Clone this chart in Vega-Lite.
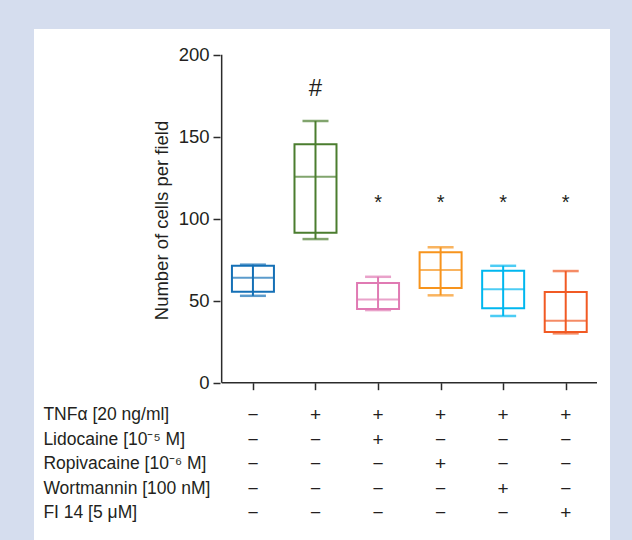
{
  "$schema": "https://vega.github.io/schema/vega-lite/v6.json",
  "width": 576,
  "height": 511,
  "autosize": {"type": "none"},
  "padding": {"left": 34, "top": 29, "right": 22, "bottom": 0},
  "background": "#d5ddee",
  "config": {
    "font": "Liberation Sans",
    "view": {"fill": "white", "stroke": null}
  },
  "datasets": {
    "boxes": [
      {"group": "Control", "pos": 1, "lo": 53, "q1": 55.5, "med": 64, "q3": 71.3, "hi": 72, "sig": ""},
      {"group": "TNFα", "pos": 2, "lo": 87.6, "q1": 91.5, "med": 125.6, "q3": 145.4, "hi": 159.6, "sig": "#"},
      {"group": "TNFα + Lidocaine", "pos": 3, "lo": 44.3, "q1": 44.9, "med": 50.8, "q3": 60.8, "hi": 64.6, "sig": "*"},
      {"group": "TNFα + Ropivacaine", "pos": 4, "lo": 53.3, "q1": 57.7, "med": 68.7, "q3": 79.5, "hi": 82.6, "sig": "*"},
      {"group": "TNFα + Wortmannin", "pos": 5, "lo": 40.7, "q1": 45.4, "med": 57, "q3": 68.3, "hi": 71.3, "sig": "*"},
      {"group": "TNFα + FI 14", "pos": 6, "lo": 30.1, "q1": 30.9, "med": 37.8, "q3": 55.3, "hi": 68.1, "sig": "*"}
    ],
    "factors": [
      {"factor": "TNFα [20 ng/ml]"},
      {"factor": "Lidocaine [10⁻⁵ M]"},
      {"factor": "Ropivacaine [10⁻⁶ M]"},
      {"factor": "Wortmannin [100 nM]"},
      {"factor": "FI 14 [5 μM]"}
    ],
    "table": [
      {"factor": "TNFα [20 ng/ml]", "pos": 1, "sym": "−"},
      {"factor": "TNFα [20 ng/ml]", "pos": 2, "sym": "+"},
      {"factor": "TNFα [20 ng/ml]", "pos": 3, "sym": "+"},
      {"factor": "TNFα [20 ng/ml]", "pos": 4, "sym": "+"},
      {"factor": "TNFα [20 ng/ml]", "pos": 5, "sym": "+"},
      {"factor": "TNFα [20 ng/ml]", "pos": 6, "sym": "+"},
      {"factor": "Lidocaine [10⁻⁵ M]", "pos": 1, "sym": "−"},
      {"factor": "Lidocaine [10⁻⁵ M]", "pos": 2, "sym": "−"},
      {"factor": "Lidocaine [10⁻⁵ M]", "pos": 3, "sym": "+"},
      {"factor": "Lidocaine [10⁻⁵ M]", "pos": 4, "sym": "−"},
      {"factor": "Lidocaine [10⁻⁵ M]", "pos": 5, "sym": "−"},
      {"factor": "Lidocaine [10⁻⁵ M]", "pos": 6, "sym": "−"},
      {"factor": "Ropivacaine [10⁻⁶ M]", "pos": 1, "sym": "−"},
      {"factor": "Ropivacaine [10⁻⁶ M]", "pos": 2, "sym": "−"},
      {"factor": "Ropivacaine [10⁻⁶ M]", "pos": 3, "sym": "−"},
      {"factor": "Ropivacaine [10⁻⁶ M]", "pos": 4, "sym": "+"},
      {"factor": "Ropivacaine [10⁻⁶ M]", "pos": 5, "sym": "−"},
      {"factor": "Ropivacaine [10⁻⁶ M]", "pos": 6, "sym": "−"},
      {"factor": "Wortmannin [100 nM]", "pos": 1, "sym": "−"},
      {"factor": "Wortmannin [100 nM]", "pos": 2, "sym": "−"},
      {"factor": "Wortmannin [100 nM]", "pos": 3, "sym": "−"},
      {"factor": "Wortmannin [100 nM]", "pos": 4, "sym": "−"},
      {"factor": "Wortmannin [100 nM]", "pos": 5, "sym": "+"},
      {"factor": "Wortmannin [100 nM]", "pos": 6, "sym": "−"},
      {"factor": "FI 14 [5 μM]", "pos": 1, "sym": "−"},
      {"factor": "FI 14 [5 μM]", "pos": 2, "sym": "−"},
      {"factor": "FI 14 [5 μM]", "pos": 3, "sym": "−"},
      {"factor": "FI 14 [5 μM]", "pos": 4, "sym": "−"},
      {"factor": "FI 14 [5 μM]", "pos": 5, "sym": "−"},
      {"factor": "FI 14 [5 μM]", "pos": 6, "sym": "+"}
    ]
  },
  "layer": [
    {
      "data": {"name": "boxes"},
      "layer": [
        {
          "mark": {"type": "rule", "strokeWidth": 2},
          "encoding": {
            "x": {"field": "pos", "type": "quantitative",
              "scale": {"domain": [-2.42, 6.628], "nice": false, "zero": false},
              "axis": {"values": [1, 2, 3, 4, 5, 6], "offset": -157.3, "domain": false, "grid": false, "labels": false, "tickSize": 7, "tickWidth": 1.5, "tickColor": "#2b2b2b", "title": null}},
            "y": {"field": "lo", "type": "quantitative",
              "scale": {"domain": [-95.9, 215.7], "nice": false, "zero": false},
              "axis": {"values": [0, 50, 100, 150, 200], "offset": -186, "domain": false, "grid": false, "tickSize": 7, "tickWidth": 1.5, "tickColor": "#2b2b2b", "labelFontSize": 18.5, "labelColor": "#231f20", "labelPadding": 4, "title": "Number of cells per field", "titleFontSize": 18.5, "titleFontWeight": "normal", "titleColor": "#231f20", "titleX": -59, "titleY": 191, "titleAngle": -90, "titleAlign": "center", "titleBaseline": "middle"}},
            "y2": {"field": "hi"},
            "color": {"field": "group", "type": "nominal", "legend": null,
              "scale": {"domain": ["Control", "TNFα", "TNFα + Lidocaine", "TNFα + Ropivacaine", "TNFα + Wortmannin", "TNFα + FI 14"],
                "range": ["#1570b6", "#4b7d2f", "#e07ab3", "#f7941d", "#00b7ef", "#f15a24"]}}
          }
        },
        {
          "mark": {"type": "bar", "filled": false, "width": 42, "strokeWidth": 2},
          "encoding": {
            "x": {"field": "pos", "type": "quantitative"},
            "y": {"field": "q1", "type": "quantitative"},
            "y2": {"field": "q3"},
            "color": {"field": "group", "type": "nominal", "legend": null}
          }
        },
        {
          "mark": {"type": "tick", "orient": "horizontal", "size": 42, "thickness": 2},
          "encoding": {
            "x": {"field": "pos", "type": "quantitative"},
            "y": {"field": "med", "type": "quantitative"},
            "color": {"field": "group", "type": "nominal", "legend": null}
          }
        },
        {
          "mark": {"type": "tick", "orient": "horizontal", "size": 26, "thickness": 2.5},
          "encoding": {
            "x": {"field": "pos", "type": "quantitative"},
            "y": {"field": "hi", "type": "quantitative"},
            "color": {"field": "group", "type": "nominal", "legend": null}
          }
        },
        {
          "mark": {"type": "tick", "orient": "horizontal", "size": 26, "thickness": 2.5},
          "encoding": {
            "x": {"field": "pos", "type": "quantitative"},
            "y": {"field": "lo", "type": "quantitative"},
            "color": {"field": "group", "type": "nominal", "legend": null}
          }
        },
        {
          "transform": [{"filter": "datum.sig == '*'"}],
          "mark": {"type": "text", "fontSize": 20, "baseline": "alphabetic", "color": "#231f20"},
          "encoding": {
            "x": {"field": "pos", "type": "quantitative"},
            "y": {"datum": 106, "type": "quantitative"},
            "text": {"field": "sig"}
          }
        },
        {
          "transform": [{"filter": "datum.sig == '#'"}],
          "mark": {"type": "text", "fontSize": 24, "baseline": "alphabetic", "color": "#231f20"},
          "encoding": {
            "x": {"field": "pos", "type": "quantitative"},
            "y": {"datum": 175, "type": "quantitative"},
            "text": {"field": "sig"}
          }
        },
        {
          "data": {"values": [{}]},
          "mark": {"type": "rule", "strokeWidth": 1.5, "color": "#2b2b2b"},
          "encoding": {
            "x": {"datum": 0.5, "type": "quantitative"},
            "y": {"datum": 0, "type": "quantitative"},
            "y2": {"datum": 200}
          }
        },
        {
          "data": {"values": [{}]},
          "mark": {"type": "rule", "strokeWidth": 1.5, "color": "#2b2b2b"},
          "encoding": {
            "x": {"datum": 0.5, "type": "quantitative"},
            "x2": {"datum": 6.5},
            "y": {"datum": 0, "type": "quantitative"}
          }
        }
      ]
    },
    {
      "layer": [
        {
          "data": {"name": "factors"},
          "mark": {"type": "text", "align": "left", "baseline": "middle", "fontSize": 17.5, "color": "#231f20"},
          "encoding": {
            "x": {"datum": -2.35, "type": "quantitative"},
            "y": {"field": "factor", "type": "nominal", "axis": null,
              "scale": {"type": "point", "domain": ["TNFα [20 ng/ml]", "Lidocaine [10⁻⁵ M]", "Ropivacaine [10⁻⁶ M]", "Wortmannin [100 nM]", "FI 14 [5 μM]"], "range": [386, 484], "padding": 0}},
            "text": {"field": "factor"}
          }
        },
        {
          "data": {"name": "table"},
          "mark": {"type": "text", "align": "center", "baseline": "middle", "fontSize": 19, "color": "#231f20"},
          "encoding": {
            "x": {"field": "pos", "type": "quantitative"},
            "y": {"field": "factor", "type": "nominal", "axis": null},
            "text": {"field": "sym"}
          }
        }
      ]
    }
  ],
  "resolve": {"scale": {"y": "independent"}}
}
